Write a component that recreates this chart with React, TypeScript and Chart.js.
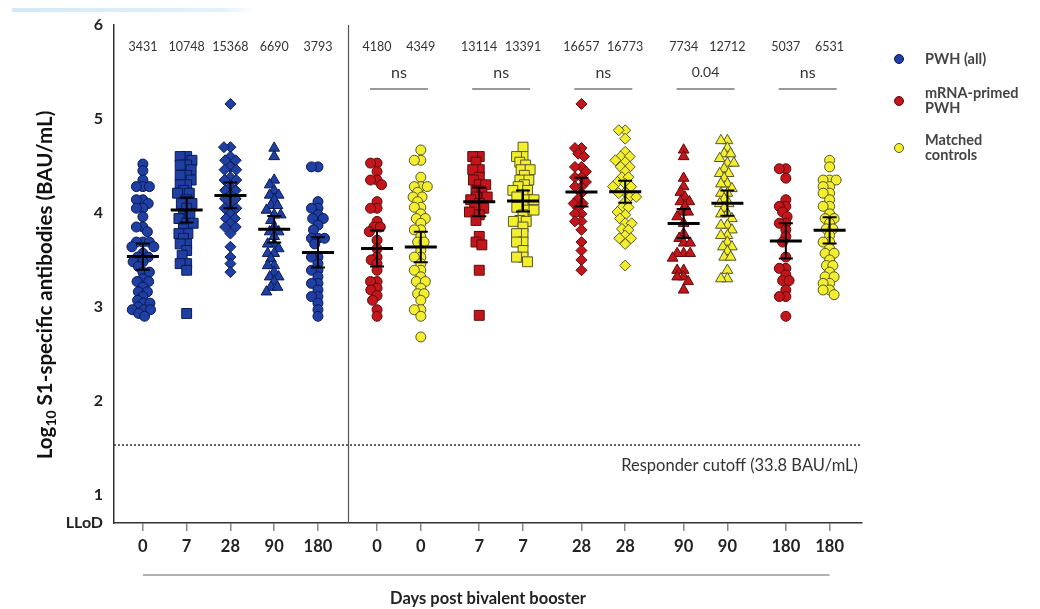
import React, { useEffect, useRef } from 'react';
import { Chart, registerables } from 'chart.js';
Chart.register(...registerables);

// ---------- data ----------
const DAY_LABELS = ['0', '7', '28', '90', '180', '0', '0', '7', '7', '28', '28', '90', '90', '180', '180'];
const GROUP_COHORT = ['pwh', 'pwh', 'pwh', 'pwh', 'pwh', 'mrna', 'ctrl', 'mrna', 'ctrl', 'mrna', 'ctrl', 'mrna', 'ctrl', 'mrna', 'ctrl'];
const GMT = [3431, 10748, 15368, 6690, 3793, 4180, 4349, 13114, 13391, 16657, 16773, 7734, 12712, 5037, 6531];
const PAIR_LABELS = ['ns', 'ns', 'ns', '0.04', 'ns'];
const CUTOFF_BAU = 33.8;
const Y_TICKS = [0.7, 1, 2, 3, 4, 5, 6];
const Y_TICK_LABELS = ['LLoD', '1', '2', '3', '4', '5', '6'];
const LEGEND_LABELS = [['PWH (all)'], ['mRNA-primed', 'PWH'], ['Matched', 'controls']];
const Y_TITLE = ['Log', '10', ' S1-specific antibodies (BAU/mL)'];
const X_TITLE = 'Days post bivalent booster';

const pwh0 = [4.52, 4.45, 4.35, 4.28, 4.28, 4.28, 4.14, 4.14, 4.10, 4.05, 4.05, 3.96, 3.85, 3.85, 3.80, 3.69, 3.69, 3.69, 3.64, 3.64, 3.57, 3.53, 3.53, 3.48, 3.48, 3.43, 3.37, 3.37, 3.30, 3.27, 3.27, 3.21, 3.16, 3.16, 3.11, 3.07, 3.04, 3.04, 3.00, 2.97, 2.97, 2.97, 2.93, 2.90];
const pwh7 = [4.60, 4.60, 4.56, 4.51, 4.51, 4.46, 4.40, 4.40, 4.35, 4.30, 4.30, 4.24, 4.21, 4.21, 4.14, 4.10, 4.10, 4.05, 3.99, 3.99, 3.94, 3.89, 3.89, 3.83, 3.78, 3.78, 3.73, 3.67, 3.67, 3.60, 3.55, 3.46, 3.46, 3.39, 2.93];
const pwh28 = [5.16, 4.70, 4.70, 4.60, 4.56, 4.56, 4.49, 4.46, 4.46, 4.38, 4.35, 4.35, 4.28, 4.24, 4.24, 4.19, 4.15, 4.15, 4.08, 4.05, 4.05, 3.99, 3.94, 3.94, 3.89, 3.85, 3.85, 3.78, 3.64, 3.53, 3.46, 3.37];
const pwh90 = [4.69, 4.60, 4.35, 4.30, 4.24, 4.19, 4.19, 4.14, 4.08, 4.08, 4.03, 3.98, 3.98, 3.92, 3.85, 3.80, 3.80, 3.75, 3.67, 3.67, 3.62, 3.57, 3.57, 3.51, 3.44, 3.44, 3.37, 3.32, 3.32, 3.27, 3.21, 3.21, 3.16];
const pwh180 = [4.49, 4.49, 4.12, 4.05, 4.05, 3.98, 3.94, 3.94, 3.87, 3.82, 3.73, 3.73, 3.73, 3.67, 3.53, 3.53, 3.46, 3.39, 3.39, 3.32, 3.25, 3.25, 3.18, 3.11, 3.11, 3.04, 2.97, 2.90];
const mrna0 = [4.53, 4.53, 4.44, 4.35, 4.35, 4.30, 4.12, 4.05, 4.05, 3.91, 3.85, 3.85, 3.80, 3.71, 3.62, 3.53, 3.50, 3.46, 3.39, 3.27, 3.27, 3.20, 3.18, 3.12, 3.07, 2.97, 2.90];
const ctrl0 = [4.67, 4.56, 4.56, 4.38, 4.28, 4.28, 4.28, 4.22, 4.17, 4.17, 4.12, 4.06, 4.06, 3.99, 3.94, 3.94, 3.89, 3.82, 3.82, 3.75, 3.69, 3.69, 3.60, 3.53, 3.53, 3.46, 3.39, 3.39, 3.32, 3.27, 3.27, 3.20, 3.14, 3.14, 3.07, 2.97, 2.97, 2.90, 2.68];
const mrna7 = [4.60, 4.60, 4.54, 4.46, 4.46, 4.38, 4.35, 4.30, 4.30, 4.24, 4.21, 4.17, 4.17, 4.14, 4.10, 4.05, 4.05, 4.01, 3.98, 3.92, 3.75, 3.69, 3.66, 3.39, 2.91];
const ctrl7 = [4.70, 4.60, 4.60, 4.54, 4.51, 4.46, 4.46, 4.40, 4.35, 4.35, 4.30, 4.28, 4.24, 4.24, 4.19, 4.17, 4.14, 4.14, 4.08, 4.06, 4.03, 4.03, 3.98, 3.92, 3.91, 3.91, 3.85, 3.78, 3.78, 3.69, 3.69, 3.60, 3.53, 3.53, 3.48];
const mrna28 = [5.16, 4.69, 4.69, 4.63, 4.60, 4.49, 4.49, 4.44, 4.38, 4.38, 4.33, 4.28, 4.28, 4.21, 4.15, 4.10, 4.10, 4.05, 3.99, 3.99, 3.91, 3.91, 3.82, 3.69, 3.60, 3.50, 3.39];
const ctrl28 = [4.88, 4.88, 4.79, 4.65, 4.60, 4.60, 4.56, 4.54, 4.49, 4.49, 4.44, 4.38, 4.38, 4.33, 4.31, 4.28, 4.28, 4.22, 4.21, 4.17, 4.17, 4.12, 4.06, 4.06, 4.01, 3.98, 3.94, 3.89, 3.89, 3.83, 3.82, 3.76, 3.73, 3.73, 3.67, 3.44];
const mrna90 = [4.67, 4.60, 4.37, 4.28, 4.22, 4.17, 4.12, 4.12, 4.07, 4.01, 4.01, 3.96, 3.89, 3.78, 3.73, 3.68, 3.68, 3.57, 3.57, 3.57, 3.52, 3.39, 3.39, 3.32, 3.32, 3.27, 3.18];
const ctrl90 = [4.77, 4.77, 4.69, 4.63, 4.63, 4.58, 4.53, 4.53, 4.47, 4.42, 4.42, 4.37, 4.31, 4.31, 4.26, 4.21, 4.21, 4.15, 4.10, 4.10, 4.05, 3.99, 3.99, 3.94, 3.87, 3.87, 3.82, 3.76, 3.76, 3.69, 3.64, 3.64, 3.59, 3.53, 3.53, 3.39, 3.30, 3.30];
const mrna180 = [4.47, 4.47, 4.37, 4.14, 4.07, 4.07, 4.01, 3.96, 3.89, 3.89, 3.82, 3.75, 3.69, 3.53, 3.41, 3.41, 3.34, 3.28, 3.28, 3.18, 3.11, 3.11, 2.90];
const ctrl180 = [4.56, 4.49, 4.35, 4.35, 4.35, 4.28, 4.28, 4.21, 4.21, 4.14, 4.07, 4.07, 3.99, 3.94, 3.94, 3.89, 3.83, 3.83, 3.76, 3.69, 3.69, 3.62, 3.57, 3.57, 3.50, 3.44, 3.44, 3.37, 3.32, 3.32, 3.25, 3.25, 3.18, 3.18, 3.13];

const SERIES = [pwh0, pwh7, pwh28, pwh90, pwh180, mrna0, ctrl0, mrna7, ctrl7, mrna28, ctrl28, mrna90, ctrl90, mrna180, ctrl180];

// ---------- layout / style ----------
const W = 1040, H = 609;
const PAD = { top: 25, right: 178 };
const Y_AXIS_W = 114, X_AXIS_H = 86;
const X_MIN = -0.66, X_MAX = 16.43, Y_MIN = 0.7, Y_MAX = 6;
const DIVIDER_X = 4.69;
const PAIR_START = 5.35, PAIR_STEP = 2.335;
const PX_X = (W - Y_AXIS_W - PAD.right) / (X_MAX - X_MIN);
const PX_Y = (H - X_AXIS_H - PAD.top) / (Y_MAX - Y_MIN);
const FONT = 'Lato, "Open Sans", sans-serif';

const COLORS: Record<string, { fill: string; stroke: string }> = {
  pwh: { fill: '#1f3fa3', stroke: '#0b1a55' },
  mrna: { fill: '#c3161c', stroke: '#5c0b0b' },
  ctrl: { fill: '#f3ee2e', stroke: '#56562a' },
};
const STYLE_BY_DAY: Record<string, { style: string; r: number }> = {
  '0': { style: 'circle', r: 5 },
  '7': { style: 'rect', r: 7 },
  '28': { style: 'rectRot', r: 5.5 },
  '90': { style: 'triangle', r: 6.2 },
  '180': { style: 'circle', r: 5 },
};

function groupX(i: number) {
  if (i < 5) return i;
  const k = Math.floor((i - 5) / 2);
  return PAIR_START + k * PAIR_STEP + ((i - 5) % 2);
}

// beeswarm horizontal offsets (in x-axis units)
function swarm(values: number[], diam: number) {
  const order = values.map((_, i) => i).sort((a, b) => values[b] - values[a]);
  const placed: { x: number; y: number }[] = [];
  const offs = new Array(values.length).fill(0);
  for (const i of order) {
    const y = values[i] * PX_Y;
    const cands = [0];
    for (const p of placed) {
      const dy = Math.abs(p.y - y);
      if (dy < diam) {
        const dx = Math.sqrt(diam * diam - dy * dy);
        cands.push(p.x + dx, p.x - dx);
      }
    }
    cands.sort((a, b) => Math.abs(a) - Math.abs(b) || a - b);
    for (const c of cands) {
      if (placed.every((p) => (p.x - c) ** 2 + (p.y - y) ** 2 >= diam * diam - 1e-6)) {
        offs[i] = c / PX_X;
        placed.push({ x: c, y });
        break;
      }
    }
  }
  return offs;
}

function ci95(values: number[]) {
  const n = values.length;
  const m = values.reduce((s, v) => s + v, 0) / n;
  const sd = Math.sqrt(values.reduce((s, v) => s + (v - m) ** 2, 0) / (n - 1));
  return (1.96 * sd) / Math.sqrt(n);
}

const overlay = {
  id: 'overlay',
  afterDatasetsDraw(chart: any) {
    const { ctx, chartArea: a, scales } = chart;
    const x = scales.x, y = scales.y;
    ctx.save();
    // divider
    ctx.strokeStyle = '#555';
    ctx.lineWidth = 1.2;
    ctx.beginPath();
    const dx = Math.round(x.getPixelForValue(DIVIDER_X)) + 0.5;
    ctx.moveTo(dx, a.top);
    ctx.lineTo(dx, a.bottom);
    ctx.stroke();
    // cutoff
    const cy = y.getPixelForValue(Math.log10(CUTOFF_BAU));
    ctx.setLineDash([2, 2]);
    ctx.lineWidth = 1.5;
    ctx.strokeStyle = '#333';
    ctx.beginPath();
    ctx.moveTo(a.left, cy);
    ctx.lineTo(a.right, cy);
    ctx.stroke();
    ctx.setLineDash([]);
    ctx.fillStyle = '#333';
    ctx.font = `16.5px ${FONT}`;
    ctx.textAlign = 'right';
    ctx.textBaseline = 'middle';
    ctx.fillText(`Responder cutoff (${CUTOFF_BAU} BAU/mL)`, a.right - 4, cy + 21);

    // mean + CI bars
    ctx.strokeStyle = '#000';
    SERIES.forEach((vals, i) => {
      const px = x.getPixelForValue(groupX(i));
      const m = Math.log10(GMT[i]);
      const c = ci95(vals);
      const pm = y.getPixelForValue(m);
      const ph = y.getPixelForValue(m + c);
      const pl = y.getPixelForValue(m - c);
      ctx.lineWidth = 3;
      ctx.beginPath();
      ctx.moveTo(px - 16, pm);
      ctx.lineTo(px + 16, pm);
      ctx.stroke();
      ctx.lineWidth = 2;
      ctx.beginPath();
      ctx.moveTo(px, ph);
      ctx.lineTo(px, pl);
      ctx.moveTo(px - 7, ph);
      ctx.lineTo(px + 7, ph);
      ctx.moveTo(px - 7, pl);
      ctx.lineTo(px + 7, pl);
      ctx.stroke();
    });

    // GMT labels
    ctx.fillStyle = '#333';
    ctx.font = `12.5px ${FONT}`;
    ctx.textAlign = 'center';
    GMT.forEach((g, i) => {
      ctx.fillText(String(g), x.getPixelForValue(groupX(i)), y.getPixelForValue(5.766));
    });
    // pair significance
    PAIR_LABELS.forEach((lab, k) => {
      const c = (x.getPixelForValue(groupX(5 + 2 * k)) + x.getPixelForValue(groupX(6 + 2 * k))) / 2;
      ctx.font = lab === 'ns' ? `16px ${FONT}` : `14px ${FONT}`;
      ctx.fillStyle = '#333';
      ctx.fillText(lab, c, y.getPixelForValue(5.49));
      ctx.strokeStyle = '#777';
      ctx.lineWidth = 1.5;
      ctx.beginPath();
      const ly = y.getPixelForValue(5.319);
      ctx.moveTo(c - 29, ly);
      ctx.lineTo(c + 29, ly);
      ctx.stroke();
    });

    // bottom bracket line
    ctx.strokeStyle = '#999';
    ctx.lineWidth = 1.5;
    ctx.beginPath();
    ctx.moveTo(x.getPixelForValue(groupX(0)), a.bottom + 52);
    ctx.lineTo(x.getPixelForValue(groupX(14)), a.bottom + 52);
    ctx.stroke();

    // x title
    ctx.fillStyle = '#222';
    ctx.font = `bold 16.5px ${FONT}`;
    ctx.textAlign = 'center';
    ctx.fillText(X_TITLE, (a.left + a.right) / 2, a.bottom + 76);

    // y title (rotated, with subscript)
    ctx.save();
    ctx.translate(45, 285);
    ctx.rotate(-Math.PI / 2);
    ctx.fillStyle = '#111';
    const big = `bold 20.5px ${FONT}`, small = `bold 14px ${FONT}`;
    ctx.font = big;
    const w0 = ctx.measureText(Y_TITLE[0]).width;
    const w2 = ctx.measureText(Y_TITLE[2]).width;
    ctx.font = small;
    const w1 = ctx.measureText(Y_TITLE[1]).width;
    let tx = -(w0 + w1 + w2) / 2;
    ctx.textAlign = 'left';
    ctx.textBaseline = 'alphabetic';
    ctx.font = big;
    ctx.fillText(Y_TITLE[0], tx, 7);
    tx += w0;
    ctx.font = small;
    ctx.fillText(Y_TITLE[1], tx, 11);
    tx += w1;
    ctx.font = big;
    ctx.fillText(Y_TITLE[2], tx, 7);
    ctx.restore();

    // legend
    const cohorts = ['pwh', 'mrna', 'ctrl'];
    const markerY = [59, 101, 148];
    ctx.textBaseline = 'middle';
    cohorts.forEach((co, k) => {
      ctx.beginPath();
      ctx.arc(a.right + 37, markerY[k], 4.5, 0, Math.PI * 2);
      ctx.fillStyle = COLORS[co].fill;
      ctx.fill();
      ctx.strokeStyle = COLORS[co].stroke;
      ctx.lineWidth = 1;
      ctx.stroke();
      const lines = LEGEND_LABELS[k];
      ctx.fillStyle = '#444';
      ctx.font = `bold 14.5px ${FONT}`;
      ctx.textAlign = 'left';
      lines.forEach((t, j) => {
        const ty = markerY[k] + (j - (lines.length - 1) / 2) * 15.5;
        ctx.fillText(t, a.right + 63, ty);
      });
    });
    ctx.restore();
  },
};

export default function App() {
  const ref = useRef<HTMLCanvasElement>(null);
  useEffect(() => {
    if (!ref.current) return;
    const datasets = SERIES.map((vals, i) => {
      const offs = swarm(vals, 6.5);
      const col = COLORS[GROUP_COHORT[i]];
      const st = STYLE_BY_DAY[DAY_LABELS[i]];
      return {
        type: 'scatter' as const,
        label: `${GROUP_COHORT[i]} ${DAY_LABELS[i]}`,
        data: vals.map((v, j) => ({ x: groupX(i) + offs[j], y: v })),
        pointStyle: st.style,
        pointRadius: st.r,
        pointBackgroundColor: col.fill,
        pointBorderColor: col.stroke,
        pointBorderWidth: 1,
        showLine: false,
      };
    });
    const chart = new Chart(ref.current, {
      type: 'scatter',
      data: { datasets },
      options: {
        animation: false,
        responsive: false,
        maintainAspectRatio: false,
        layout: { padding: { top: PAD.top, right: PAD.right, left: 0, bottom: 0 } },
        plugins: { legend: { display: false }, tooltip: { enabled: false } },
        events: [],
        scales: {
          x: {
            type: 'linear',
            min: X_MIN,
            max: X_MAX,
            afterBuildTicks: (s: any) => {
              s.ticks = DAY_LABELS.map((_, i) => ({ value: groupX(i) }));
            },
            afterFit: (s: any) => {
              s.height = X_AXIS_H;
            },
            ticks: {
              autoSkip: false,
              maxRotation: 0,
              padding: 6,
              color: '#222',
              font: { family: FONT, weight: 'bold', size: 16.5 },
              callback: (_v: any, i: number) => DAY_LABELS[i],
            },
            grid: { display: true, drawOnChartArea: false, drawTicks: true, tickLength: 8, color: '#888', lineWidth: 1.5 },
            border: { display: true, color: '#333', width: 1.5 },
          },
          y: {
            type: 'linear',
            min: Y_MIN,
            max: Y_MAX,
            afterBuildTicks: (s: any) => {
              s.ticks = Y_TICKS.map((v) => ({ value: v }));
            },
            afterFit: (s: any) => {
              s.width = Y_AXIS_W;
            },
            ticks: {
              padding: 11,
              color: '#222',
              font: { family: FONT, weight: 'bold', size: 16 },
              callback: (_v: any, i: number) => Y_TICK_LABELS[i],
            },
            grid: { display: false, drawTicks: false },
            border: { display: true, color: '#333', width: 1.5 },
          },
        },
      },
      plugins: [overlay],
    } as any);
    return () => chart.destroy();
  }, []);
  return (
    <div style={{ position: 'absolute', left: 0, top: 0, width: W, height: H, background: '#fff' }}>
      <div
        style={{
          position: 'absolute',
          left: 12,
          top: 8,
          width: 246,
          height: 4,
          background: 'linear-gradient(to right, #d3e9f7, #e3f1fa 85%, rgba(240,248,253,0))',
        }}
      />
      <canvas ref={ref} width={W} height={H} style={{ display: 'block', position: 'absolute', left: 0, top: 0 }} />
    </div>
  );
}
